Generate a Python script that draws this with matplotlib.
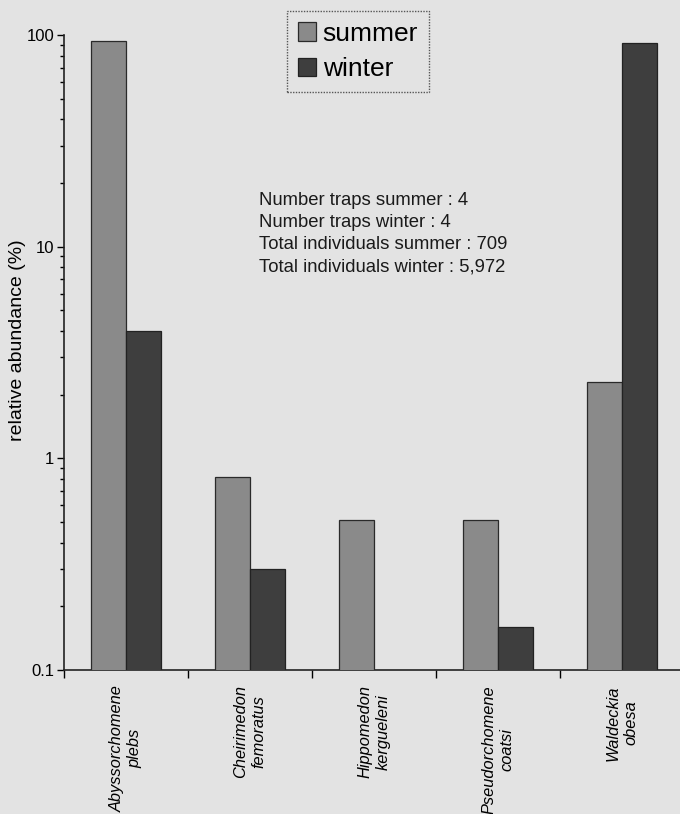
import numpy as np
import matplotlib
matplotlib.use("Agg")
import matplotlib.pyplot as plt
from matplotlib.ticker import LogLocator, FixedLocator, NullFormatter, FixedFormatter

# ===== DATA =====
species = ["Abyssorchomene\nplebs", "Cheirimedon\nfemoratus", "Hippomedon\nkergueleni",
           "Pseudorchomene\ncoatsi", "Waldeckia\nobesa"]
summer = [94.0, 0.82, 0.51, 0.51, 2.3]
winter = [4.0, 0.30, 0.0, 0.16, 92.0]
y_ticks = [0.1, 1, 10, 100]
y_tick_labels = ["0.1", "1", "10", "100"]
info_lines = ["Number traps summer : 4", "Number traps winter : 4",
              "Total individuals summer : 709", "Total individuals winter : 5,972"]

plt.rcParams['font.family'] = ['Liberation Sans', 'DejaVu Sans']

bg = '#e3e3e3'
fig = plt.figure(figsize=(6.8, 8.14), dpi=100, facecolor=bg)
ax = fig.add_axes([64/680, 144/814, 620/680, 635/814], facecolor=bg)

x = np.arange(len(species))
w = 0.285
b1 = ax.bar(x - w/2, summer, w, color='#8a8a8a', edgecolor='#2a2a2a', linewidth=0.9,
            label='summer', zorder=3)
b2 = ax.bar(x + w/2, winter, w, color='#3e3e3e', edgecolor='#222222', linewidth=0.9,
            label='winter', zorder=3)

ax.set_yscale('log')
ax.set_ylim(0.1, 100)
ax.set_xlim(-0.5, len(species) - 0.5)

# y axis
ax.yaxis.set_major_locator(FixedLocator(y_ticks))
ax.yaxis.set_major_formatter(FixedFormatter(y_tick_labels))
ax.yaxis.set_minor_locator(LogLocator(base=10, subs=np.arange(2, 10)))
ax.yaxis.set_minor_formatter(NullFormatter())
ax.tick_params(axis='y', which='major', direction='out', length=5, width=1, labelsize=12, pad=2)
ax.tick_params(axis='y', which='minor', direction='out', length=3, width=1)
ax.set_ylabel('relative abundance (%)', fontsize=14)
ax.yaxis.set_label_coords(-38/620, 0.52)

# x axis: boundary ticks, labels at centres
ax.xaxis.set_major_locator(FixedLocator(np.arange(len(species) + 1) - 0.5))
ax.xaxis.set_major_formatter(NullFormatter())
ax.xaxis.set_minor_locator(FixedLocator(x))
ax.xaxis.set_minor_formatter(FixedFormatter(species))
ax.tick_params(axis='x', which='major', direction='out', length=6, width=1)
ax.tick_params(axis='x', which='minor', length=0, pad=11, labelsize=11.8)
for lbl in ax.get_xticklabels(minor=True):
    lbl.set_rotation(90)
    lbl.set_style('italic')
    lbl.set_va('top')
    lbl.set_ha('center')
    lbl.set_multialignment('center')
    lbl.set_linespacing(1.25)

for s in ['top', 'right']:
    ax.spines[s].set_visible(False)
for s in ['left', 'bottom']:
    ax.spines[s].set_linewidth(1.2)
    ax.spines[s].set_color('#222222')

# info text
fig.text(259/680, 1 - 192/814, "\n".join(info_lines), fontsize=13.3, va='top', ha='left',
         linespacing=1.39, color='#1a1a1a')

# legend
leg = fig.legend(handles=[b1, b2], loc='upper left', bbox_to_anchor=(287/680, 1 - 11/814),
                 borderaxespad=0, fontsize=19, frameon=True, fancybox=False,
                 handlelength=0.7, handleheight=0.7, handletextpad=0.25,
                 labelspacing=0.45, borderpad=0.4, facecolor=bg)
leg.get_frame().set_edgecolor('#333333')
leg.get_frame().set_linestyle((0, (1, 1)))
leg.get_frame().set_linewidth(1.0)

fig.savefig('out.png', dpi=100, facecolor=bg)
